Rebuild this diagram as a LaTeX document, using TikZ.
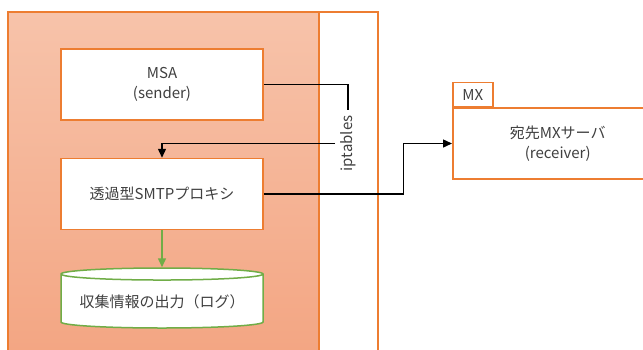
\documentclass[tikz,border=0pt]{standalone}
\usepackage{fontspec}
\setmainfont{Noto Sans CJK JP}
\usetikzlibrary{arrows, arrows.meta, shapes, positioning, calc}
\definecolor{frameorange}{HTML}{ED7D31}
\definecolor{lightorange}{HTML}{F7C3AA}
\definecolor{darkorange}{HTML}{F3A582}
\definecolor{loggreen}{HTML}{70AD47}
\definecolor{labelgray}{HTML}{404040}

\begin{document}
\begin{tikzpicture}
            [x=1pt, y=-1pt, >={Triangle[length=9pt,width=8pt]}, node distance=37pt,
            font=\fontsize{15}{20}\selectfont, text=labelgray,
            box/.style={rectangle, align=center, draw=frameorange, fill=white,
                line width=1.5pt, minimum width=202pt, minimum height=71pt},
            store/.style={cylinder, shape border rotate=90, aspect=0.07,
                draw=loggreen, fill=white, line width=1.5pt,
                minimum width=202pt, minimum height=60pt},
            conn/.style={draw=black, line width=1.4pt}]

            \useasboundingbox (0,0) rectangle (643,349);

            % host and filter strip
            \shade[top color=lightorange, bottom color=darkorange] (8,12) rectangle (319,360);
            \draw[frameorange, line width=1.5pt] (8,360) -- (8,12) -- (378,12) -- (378,360);
            \draw[frameorange, line width=1.5pt] (319,12) -- (319,360);

            \node[box] (msa) at (162,84.5) {MSA\\(sender)};
            \node[box] (proxy) [below = of msa] {透過型SMTPプロキシ};
            \node[store] (log) [below = of proxy] {収集情報の出力（ログ）};
            \node[rotate=90, inner sep=5pt] (ipt) at (348,143.5) {iptables};

            \node[box, anchor=west, minimum width=210pt] (mx) at (452,143.5) {宛先MXサーバ\\(receiver)};
            \node[draw=frameorange, line width=1.5pt, minimum width=40pt, minimum height=24pt,
                anchor=south west] (mxtab) at (mx.north west) {MX};

            \draw[conn] (msa.east) -| (ipt.east);
            \draw[conn, ->] (ipt.north) -| (proxy.north);
            \draw[conn, ->] (proxy.east) -- ++(140,0) |- (mx.west);
            \draw[loggreen, line width=1.5pt, ->] (proxy.south) -- (log.north);

        \end{tikzpicture}
\end{document}
